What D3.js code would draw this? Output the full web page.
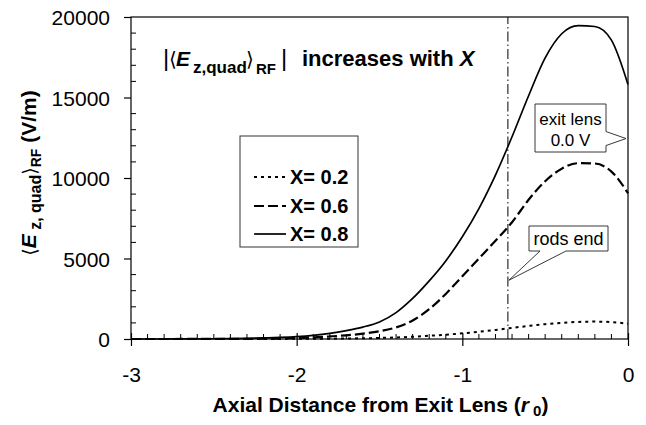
<!DOCTYPE html>
<html>
<head>
<meta charset="utf-8">
<script src="https://cdn.jsdelivr.net/npm/d3@7"></script>
<style>
  body { margin: 0; background: #fff; }
  svg { display: block; }
  text { font-family: "Liberation Sans", Arial, sans-serif; fill: #000; }
</style>
</head>
<body>
<svg id="chart" width="646" height="425"></svg>
<script>
// Axial position (units of r0, measured from the exit lens)
const distance = [-3.0, -2.9, -2.8, -2.7, -2.6, -2.5, -2.4, -2.3, -2.2, -2.1,
                  -2.0, -1.9, -1.8, -1.7, -1.6, -1.5, -1.4, -1.3, -1.2, -1.1,
                  -1.0, -0.9, -0.8, -0.7, -0.6, -0.5, -0.4, -0.3, -0.2, -0.1, 0.0];
// RF-averaged axial quadrupole field (V/m) for each X
const fieldX02 = [0, 0, 0, 0, 0, 1, 2, 3, 5, 7,
                  10, 14, 20, 30, 45, 65, 95, 140, 200, 270,
                  350, 450, 560, 690, 810, 920, 1000, 1060, 1080, 1050, 950];
const fieldX06 = [0, 0, 1, 2, 3, 5, 8, 12, 20, 35,
                  60, 100, 160, 230, 330, 480, 720, 1150, 1850, 2800,
                  3900, 5000, 6100, 7250, 8650, 9800, 10580, 10920, 10900, 10400, 9050];
const fieldX08 = [0, 1, 2, 4, 8, 14, 25, 40, 65, 100,
                  150, 230, 350, 520, 740, 1060, 1640, 2520, 3610, 4850,
                  6350, 8100, 10180, 12560, 15110, 17460, 18960, 19460, 19410, 18560, 15800];
const seriesLabels = ["X= 0.2", "X= 0.6", "X= 0.8"];
const xTicks = [-3, -2, -1, 0];
const yTicks = [0, 5000, 10000, 15000, 20000];
const rodsEnd = -0.725;        // where the quadrupole rods terminate
const rodsEndMarker = 3650;    // field level the "rods end" callout points at
const exitLensMarker = 12450;  // field level the "exit lens" callout points at

const svg = d3.select("#chart");
const m = { left: 131, right: 628, top: 17, bottom: 339 };

const x = d3.scaleLinear().domain([-3, 0]).range([m.left, m.right]);
const y = d3.scaleLinear().domain([0, 20000]).range([m.bottom, m.top]);

const ink = "#000";
const tickFont = 21;

// Plot frame
svg.append("rect")
  .attr("x", m.left).attr("y", m.top)
  .attr("width", m.right - m.left).attr("height", m.bottom - m.top)
  .attr("fill", "none").attr("stroke", ink).attr("stroke-width", 1.2);

// X axis: major ticks cross the axis, minor ticks point inward
const xAxis = svg.append("g").attr("transform", `translate(0,${m.bottom})`);
xAxis.call(d3.axisBottom(x).tickValues(xTicks).tickSize(7).tickFormat(d => String(d)))
  .call(g => g.select(".domain").remove())
  .call(g => g.selectAll(".tick line").attr("y1", -6).attr("stroke", ink).attr("stroke-width", 1.2))
  .call(g => g.selectAll(".tick text")
      .attr("y", 0).attr("dy", 43)
      .attr("font-size", tickFont).attr("font-family", "Liberation Sans, Arial, sans-serif"));
const xMinor = d3.range(-29, 0).map(d => d / 10).filter(d => Math.abs(d - Math.round(d)) > 1e-6);
xAxis.selectAll("line.minor").data(xMinor).join("line")
  .attr("class", "minor")
  .attr("x1", d => x(d)).attr("x2", d => x(d))
  .attr("y1", 0).attr("y2", -5)
  .attr("stroke", ink).attr("stroke-width", 1);

// Y axis
const yAxis = svg.append("g").attr("transform", `translate(${m.left},0)`);
yAxis.call(d3.axisLeft(y).tickValues(yTicks).tickSize(7).tickPadding(14).tickFormat(d => String(d)))
  .call(g => g.select(".domain").remove())
  .call(g => g.selectAll(".tick line").attr("stroke", ink).attr("stroke-width", 1.2))
  .call(g => g.selectAll(".tick text")
      .attr("font-size", tickFont).attr("dy", "0.36em").attr("font-family", "Liberation Sans, Arial, sans-serif"));
const yMinor = d3.range(1000, 20000, 1000).filter(d => d % 5000 !== 0);
yAxis.selectAll("line.minor").data(yMinor).join("line")
  .attr("class", "minor")
  .attr("x1", 0).attr("x2", 5)
  .attr("y1", d => y(d)).attr("y2", d => y(d))
  .attr("stroke", ink).attr("stroke-width", 1);

// Rods-end marker (dash-dot vertical)
svg.append("line")
  .attr("x1", x(rodsEnd)).attr("x2", x(rodsEnd))
  .attr("y1", y(0)).attr("y2", y(20000))
  .attr("stroke", ink).attr("stroke-width", 1)
  .attr("stroke-dasharray", "10,3,1.5,3");

// Field curves
const series = [
  { name: seriesLabels[0], values: fieldX02, dash: "3,4", width: 2 },
  { name: seriesLabels[1], values: fieldX06, dash: "10,4", width: 2.2 },
  { name: seriesLabels[2], values: fieldX08, dash: null, width: 1.7 }
];
const line = d3.line()
  .x(d => x(d[0])).y(d => y(d[1]))
  .curve(d3.curveMonotoneX);
series.forEach(s => {
  svg.append("path")
    .datum(distance.map((d, i) => [d, s.values[i]]))
    .attr("d", line)
    .attr("fill", "none")
    .attr("stroke", ink)
    .attr("stroke-width", s.width)
    .attr("stroke-dasharray", s.dash);
});

// Callout: exit lens
{
  const tx = x(0) - 2, ty = y(exitLensMarker);
  const bx0 = 535, bx1 = 606, by0 = 104, by1 = 152;
  svg.append("path")
    .attr("d", `M${bx0},${by0}H${bx1}V${ty - 7}L${tx},${ty}L${bx1},${ty + 7}V${by1}H${bx0}Z`)
    .attr("fill", "#fff").attr("stroke", "#222").attr("stroke-width", 0.9);
  svg.append("text").attr("x", (bx0 + bx1) / 2).attr("y", 125)
    .attr("text-anchor", "middle").attr("font-size", 17).text("exit lens");
  svg.append("text").attr("x", (bx0 + bx1) / 2).attr("y", 146)
    .attr("text-anchor", "middle").attr("font-size", 17).text("0.0 V");
}

// Callout: rods end
{
  const tx = x(rodsEnd) + 1, ty = y(rodsEndMarker);
  const bx0 = 529, bx1 = 608, by0 = 226, by1 = 251;
  svg.append("path")
    .attr("d", `M${bx0},${by0}H${bx1}V${by1}H566L${tx},${ty}L540,${by1}H${bx0}Z`)
    .attr("fill", "#fff").attr("stroke", "#222").attr("stroke-width", 0.9);
  svg.append("text").attr("x", (bx0 + bx1) / 2).attr("y", 245)
    .attr("text-anchor", "middle").attr("font-size", 18).text("rods end");
}

// Legend
{
  const lg = svg.append("g");
  lg.append("rect").attr("x", 240).attr("y", 136).attr("width", 118).attr("height", 111)
    .attr("fill", "#fff").attr("stroke", "#333").attr("stroke-width", 1);
  const rowY = [177, 206, 234];
  series.forEach((s, i) => {
    lg.append("line")
      .attr("x1", 254).attr("x2", 286)
      .attr("y1", rowY[i]).attr("y2", rowY[i])
      .attr("stroke", ink).attr("stroke-width", s.width)
      .attr("stroke-dasharray", s.dash);
    lg.append("text").attr("x", 290).attr("y", rowY[i]).attr("dy", "0.36em")
      .attr("font-size", 20).attr("font-weight", "bold").text(s.name);
  });
}

// In-plot heading: |<E z,quad>RF| increases with X
{
  const base = 66;
  const t = svg.append("text").attr("y", base).attr("font-size", 22).attr("font-weight", "bold");
  t.append("tspan").attr("x", 163).attr("font-weight", "normal").attr("font-size", 24).text("|");
  t.append("tspan").attr("x", 169).attr("font-weight", "normal").attr("font-family", "DejaVu Sans").attr("font-size", 20).text("\u27E8");
  t.append("tspan").attr("x", 176).attr("font-style", "italic").attr("font-size", 21).text("E");
  t.append("tspan").attr("x", 193).attr("y", base + 7).attr("font-size", 17).text("z,quad");
  t.append("tspan").attr("x", 246).attr("y", base).attr("font-weight", "normal").attr("font-family", "DejaVu Sans").attr("font-size", 20).text("\u27E9");
  t.append("tspan").attr("x", 256).attr("y", base + 8).attr("font-size", 15).text("RF");
  t.append("tspan").attr("x", 281).attr("y", base).attr("font-weight", "normal").attr("font-size", 24).text("|");
  t.append("tspan").attr("x", 302).text("increases with ");
  t.append("tspan").attr("font-style", "italic").text("X");
}

// X axis title
{
  const t = svg.append("text").attr("x", (m.left + m.right) / 2 + 1).attr("y", 412)
    .attr("text-anchor", "middle").attr("font-size", 21).attr("font-weight", "bold");
  t.append("tspan").text("Axial Distance from Exit Lens (");
  t.append("tspan").attr("font-style", "italic").text("r");
  t.append("tspan").attr("font-size", 15).attr("dy", 4).text(" 0");
  t.append("tspan").attr("dy", -4).text(")");
}

// Y axis title
{
  const t = svg.append("text")
    .attr("transform", "translate(36,173) rotate(-90)")
    .attr("text-anchor", "middle").attr("font-size", 21).attr("font-weight", "bold");
  t.append("tspan").attr("font-weight", "normal").attr("font-family", "DejaVu Sans").attr("font-size", 19).text("\u27E8");
  t.append("tspan").attr("font-style", "italic").text("E");
  t.append("tspan").attr("font-size", 16).attr("dy", 5).text(" z, quad");
  t.append("tspan").attr("font-weight", "normal").attr("font-family", "DejaVu Sans").attr("font-size", 19).attr("dy", -5).text("\u27E9");
  t.append("tspan").attr("font-size", 14).attr("dy", 5).text("RF");
  t.append("tspan").attr("dy", -5).text(" (V/m)");
}
</script>
</body>
</html>
